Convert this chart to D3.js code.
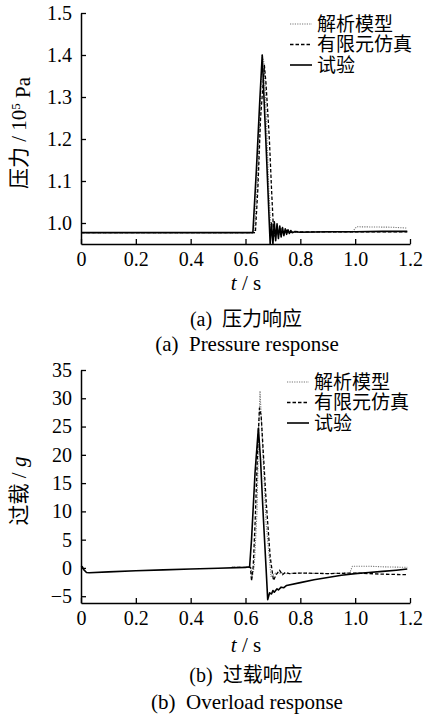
<html>
<head>
<meta charset="utf-8">
<script src="https://cdn.jsdelivr.net/npm/d3@7"></script>
<style>
  body { margin: 0; background: #fff; }
  text { font-family: "Liberation Serif", "Times New Roman", Tinos, "DejaVu Serif", "Noto Sans CJK SC", serif; fill: #000; white-space: pre; }
</style>
</head>
<body>
<script>
// ---- data ----
var legendNames = ["解析模型", "有限元仿真", "试验"];
var xTicks = [0, 0.2, 0.4, 0.6, 0.8, 1.0, 1.2];
var pTicks = [1.0, 1.1, 1.2, 1.3, 1.4, 1.5];
var gTicks = [-5, 0, 5, 10, 15, 20, 25, 30, 35];

// (a) pressure, 10^5 Pa
var pTimeTest = [0, 0.627, 0.64, 0.652, 0.661, 0.668, 0.676, 0.69, 0.695, 0.70, 0.705, 0.71, 0.715, 0.72, 0.725, 0.73, 0.735, 0.74, 0.745, 0.75, 0.755, 0.76, 0.765, 0.77, 0.78, 0.8, 0.9, 1.0, 1.1, 1.19];
var pTest     = [0.977, 0.977, 1.13, 1.29, 1.40, 1.29, 1.17, 0.95, 1.0, 0.951, 1.003, 0.958, 0.998, 0.963, 0.993, 0.967, 0.989, 0.970, 0.986, 0.973, 0.984, 0.975, 0.982, 0.977, 0.979, 0.978, 0.979, 0.979, 0.980, 0.980];
var pTimeFem  = [0, 0.636, 0.645, 0.655, 0.669, 0.675, 0.687, 0.695, 0.702, 0.708, 0.715, 0.72, 0.73, 0.74, 0.75, 0.76, 0.78, 0.8, 1.0, 1.19];
var pFem      = [0.977, 0.977, 1.08, 1.25, 1.375, 1.33, 1.2, 1.08, 0.985, 0.968, 0.99, 0.972, 0.986, 0.975, 0.983, 0.977, 0.98, 0.979, 0.979, 0.979];
var pTimeModel = [0, 0.633, 0.645, 0.655, 0.661, 0.668, 0.676, 0.685, 0.693, 0.70, 0.99, 1.005, 1.13, 1.19];
var pModel     = [0.977, 0.977, 1.12, 1.30, 1.40, 1.38, 1.25, 1.08, 0.98, 0.978, 0.979, 0.991, 0.990, 0.988];

// (b) overload, g
var gTimeTest = [0, 0.005, 0.01, 0.02, 0.03, 0.1, 0.2, 0.3, 0.4, 0.5, 0.6, 0.615, 0.622, 0.635, 0.647, 0.655, 0.665, 0.675, 0.681, 0.688, 0.695, 0.70, 0.705, 0.715, 0.72, 0.73, 0.74, 0.75, 0.8, 0.85, 0.9, 0.95, 1.0, 1.05, 1.1, 1.15, 1.19];
var gTest     = [0.3, 0.2, -0.3, -0.8, -0.85, -0.7, -0.5, -0.35, -0.2, -0.05, 0.1, 0.2, 5, 17, 24.7, 19, 9, 0, -5.6, -4.4, -4.6, -4.0, -4.3, -3.7, -3.9, -3.4, -3.5, -3.1, -2.6, -2.1, -1.7, -1.3, -1.0, -0.8, -0.6, -0.4, -0.2];
var gTimeFem  = [0.55, 0.618, 0.622, 0.628, 0.635, 0.645, 0.651, 0.657, 0.675, 0.69, 0.702, 0.712, 0.724, 0.735, 0.745, 0.76, 0.8, 0.9, 1.0, 1.1, 1.19];
var gFem      = [0.1, 0.1, -2.3, 0.2, 8, 22, 28.3, 27, 12, 2, -2.2, -1.2, -0.4, -1.2, -0.8, -1.0, -0.9, -1.0, -0.9, -1.1, -1.2];
var gTimeModel = [0.55, 0.62, 0.624, 0.632, 0.642, 0.648, 0.653, 0.66, 0.675, 0.693, 0.71, 0.75, 0.8, 0.9, 0.98, 0.99, 1.05, 1.1, 1.19];
var gModel     = [0.1, 0.1, -1.8, 0.3, 10, 24, 31.3, 24, 8, -1.5, -0.9, -1.0, -0.9, -1.0, -0.9, 0.3, 0.3, 0.2, 0.1];

var width = 425, height = 720;
var svg = d3.select("body").append("svg")
    .attr("width", width)
    .attr("height", height);

var serif = "'Liberation Serif', 'Times New Roman', Tinos, 'DejaVu Serif', 'Noto Sans CJK SC', serif";

var styles = [
    {stroke: "#777", width: 1.1, dash: "1.2,1.2"},   // 解析模型
    {stroke: "#000", width: 1.3, dash: "3.5,2"},     // 有限元仿真
    {stroke: "#000", width: 1.6, dash: null}         // 试验
];

function zip(ts, vs) {
    return ts.map(function(t, i) { return [t, vs[i]]; });
}

function drawPanel(opt) {
    var x = d3.scaleLinear().domain([0, 1.2]).range([81, 410]);
    var y = d3.scaleLinear().domain(opt.yDomain).range([opt.bottom, opt.top]);

    var g = svg.append("g");

    // curves: model, fem, test
    var line = d3.line()
        .x(function(d) { return x(d[0]); })
        .y(function(d) { return y(d[1]); });
    opt.series.forEach(function(s, i) {
        g.append("path")
            .datum(s)
            .attr("d", line)
            .attr("fill", "none")
            .attr("stroke", styles[i].stroke)
            .attr("stroke-width", styles[i].width)
            .attr("stroke-dasharray", styles[i].dash)
            .attr("stroke-linejoin", "round");
    });

    // axes, ticks pointing inward
    var xAxis = d3.axisBottom(x).tickValues(xTicks)
        .tickSizeInner(-5).tickSizeOuter(0).tickPadding(8)
        .tickFormat(function(d) { return d === 0 ? "0" : d3.format(".1f")(d); });
    var yAxis = d3.axisLeft(y).tickValues(opt.yTicks)
        .tickSizeInner(-5).tickSizeOuter(0).tickPadding(9)
        .tickFormat(opt.yFormat);

    var gx = g.append("g").attr("transform", "translate(0," + opt.bottom + ")").call(xAxis);
    var gy = g.append("g").attr("transform", "translate(81,0)").call(yAxis);
    [gx, gy].forEach(function(a) {
        a.attr("font-family", serif).attr("font-size", 20);
        a.select(".domain").attr("stroke-width", 1.5);
        a.selectAll(".tick line").attr("stroke-width", 1.3);
        a.selectAll(".tick text").style("font-size", "20px").style("font-family", serif);
    });

    // legend
    var lg = g.append("g");
    legendNames.forEach(function(name, i) {
        var ly = opt.legendY + i * opt.legendStep;
        lg.append("line")
            .attr("x1", opt.legendX).attr("x2", opt.legendX + 22)
            .attr("y1", ly).attr("y2", ly)
            .attr("stroke", styles[i].stroke)
            .attr("stroke-width", styles[i].width)
            .attr("stroke-dasharray", styles[i].dash);
        lg.append("text")
            .attr("x", opt.legendX + 27).attr("y", ly)
            .attr("dy", "0.36em")
            .style("font-size", "19px")
            .text(name);
    });

    // x label  t / s
    var xl = svg.append("text")
        .attr("x", 246).attr("y", opt.xLabelY)
        .attr("text-anchor", "middle")
        .style("font-size", "21px");
    xl.append("tspan").style("font-style", "italic").text("t");
    xl.append("tspan").text(" / s");

    // captions
    svg.append("text")
        .attr("x", 246).attr("y", opt.cap1Y)
        .attr("text-anchor", "middle").style("font-size", "20px")
        .text(opt.cap1);
    svg.append("text")
        .attr("x", 247).attr("y", opt.cap2Y)
        .attr("text-anchor", "middle").style("font-size", "21px")
        .text(opt.cap2);
}

drawPanel({
    yDomain: [0.95, 1.5], top: 13, bottom: 244,
    yTicks: pTicks, yFormat: d3.format(".1f"),
    series: [zip(pTimeModel, pModel), zip(pTimeFem, pFem), zip(pTimeTest, pTest)],
    legendX: 290, legendY: 24, legendStep: 20.5,
    xLabelY: 290, cap1: "(a)  压力响应", cap1Y: 326,
    cap2: "(a)  Pressure response", cap2Y: 351
});

drawPanel({
    yDomain: [-6.2, 35], top: 370, bottom: 603,
    yTicks: gTicks, yFormat: d3.format("d"),
    series: [zip(gTimeModel, gModel), zip(gTimeFem, gFem), zip(gTimeTest, gTest)],
    legendX: 287, legendY: 382, legendStep: 20.5,
    xLabelY: 652, cap1: "(b)  过载响应", cap1Y: 682,
    cap2: "(b)  Overload response", cap2Y: 709
});

// y labels
var yl1 = svg.append("text")
    .attr("transform", "translate(26,133) rotate(-90)")
    .attr("text-anchor", "middle")
    .style("font-size", "21px");
yl1.append("tspan").text("压力 / 10");
yl1.append("tspan").attr("dy", "-0.45em").style("font-size", "13px").text("5");
yl1.append("tspan").attr("dy", "0.45em").text(" Pa");

var yl2 = svg.append("text")
    .attr("transform", "translate(26,491) rotate(-90)")
    .attr("text-anchor", "middle")
    .style("font-size", "21px");
yl2.append("tspan").text("过载 / ");
yl2.append("tspan").style("font-style", "italic").text("g");
</script>
</body>
</html>
